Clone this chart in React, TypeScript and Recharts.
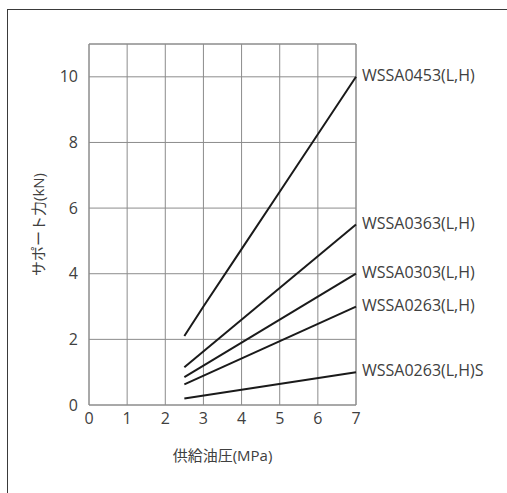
import { LineChart, Line, XAxis, YAxis, CartesianGrid, ReferenceLine, Label } from 'recharts';

const FONT = '"Open Sans", "Noto Sans CJK JP", sans-serif';
const TEXT = '#404040';
const GRID = '#8c8c8c';

const xTicks = [0, 1, 2, 3, 4, 5, 6, 7];
const yTicks = [0, 2, 4, 6, 8, 10];

const pressure = [2.5, 7];
const pressure0453 = [2.5, 3, 4, 5, 6, 7];

const wssa0453 = [2.1, 3.0, 4.75, 6.5, 8.25, 10];
const wssa0363 = [1.15, 5.5];
const wssa0303 = [0.85, 4.0];
const wssa0263 = [0.63, 3.0];
const wssa0263S = [0.2, 1.0];

const seriesNames = [
  'WSSA0453(L,H)',
  'WSSA0363(L,H)',
  'WSSA0303(L,H)',
  'WSSA0263(L,H)',
  'WSSA0263(L,H)S',
];

const toRows = (xs: number[], ys: number[]) => xs.map((x, i) => ({ x, y: ys[i] }));

const series = [
  toRows(pressure0453, wssa0453),
  toRows(pressure, wssa0363),
  toRows(pressure, wssa0303),
  toRows(pressure, wssa0263),
  toRows(pressure, wssa0263S),
];

const endLabel = (name: string, count: number) => (props: any) => {
  const { x, y, index } = props;
  if (index !== count - 1) return null;
  return (
    <text x={x + 6} y={y - 2} dominantBaseline="central" fill={TEXT} fontSize={16} fontFamily={FONT}>
      {name}
    </text>
  );
};

const YTitle = (props: any) => {
  const vb = props.viewBox;
  const cx = vb.x + 38;
  const cy = vb.y + vb.height / 2;
  return (
    <text x={cx} y={cy} transform={`rotate(-90 ${cx} ${cy})`} textAnchor="middle" dominantBaseline="central"
      fill={TEXT} fontSize={15} fontFamily={FONT}>
      サポート力(kN)
    </text>
  );
};

const XTitle = (props: any) => {
  const vb = props.viewBox;
  return (
    <text x={vb.x + vb.width / 2} y={vb.y + 50} textAnchor="middle" dominantBaseline="central"
      fill={TEXT} fontSize={15} fontFamily={FONT}>
      供給油圧(MPa)
    </text>
  );
};

export default function App() {
  return (
    <div style={{ position: 'absolute', left: 0, top: 0, width: 507, height: 493, background: '#fff' }}>
      <div style={{ position: 'absolute', left: 7, top: 9, width: 500, height: 484, borderTop: '1px solid #3a3a3a', borderLeft: '1px solid #3a3a3a' }} />
      <LineChart width={507} height={493} margin={{ top: 44, right: 151, left: 0, bottom: 0 }}
        style={{ position: 'absolute', left: 0, top: 0 }}>
        <CartesianGrid stroke={GRID} strokeWidth={1} />
        <XAxis dataKey="x" type="number" domain={[0, 7]} ticks={xTicks} height={88}
          axisLine={{ stroke: GRID }} tickLine={false} allowDuplicatedCategory={false}
          tick={{ fill: TEXT, fontSize: 16, fontFamily: FONT }}>
          <Label content={XTitle} />
        </XAxis>
        <YAxis type="number" domain={[0, 11]} ticks={yTicks} width={89}
          axisLine={{ stroke: GRID }} tickLine={false} tickMargin={5}
          tick={{ fill: TEXT, fontSize: 16, fontFamily: FONT }}>
          <Label content={YTitle} />
        </YAxis>
        <ReferenceLine y={11} stroke={GRID} />
        <ReferenceLine x={7} stroke={GRID} />
        {series.map((data, i) => (
          <Line key={seriesNames[i]} data={data} dataKey="y" type="linear" stroke="#1a1a1a" strokeWidth={2}
            dot={false} isAnimationActive={false} label={endLabel(seriesNames[i], data.length)} />
        ))}
      </LineChart>
    </div>
  );
}
